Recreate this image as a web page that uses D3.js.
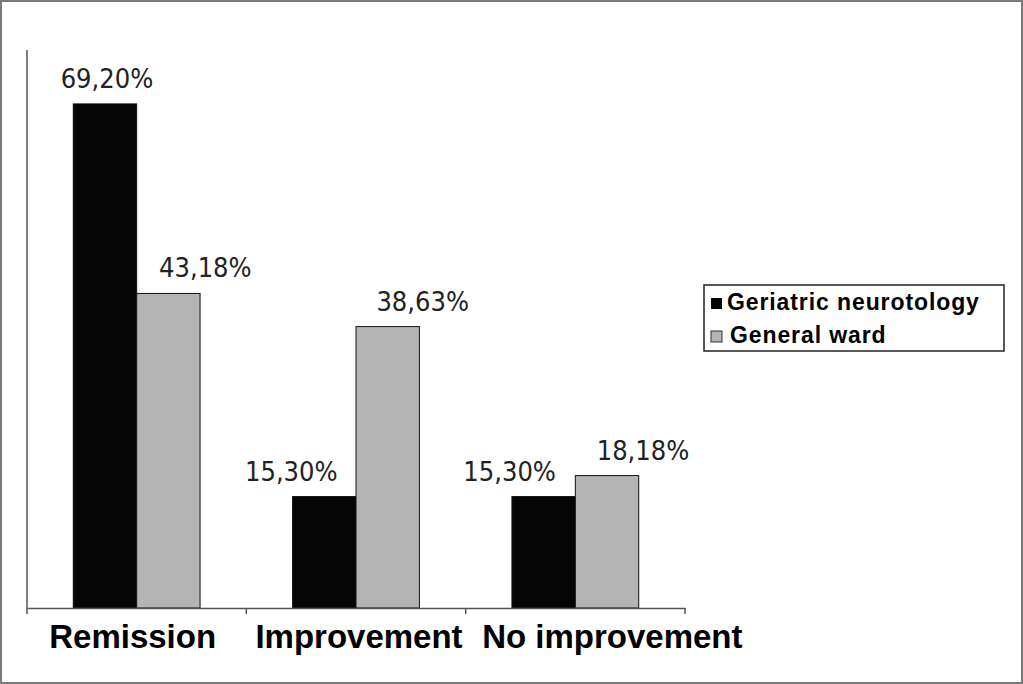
<!DOCTYPE html>
<html><head><meta charset="utf-8">
<script src="https://cdn.jsdelivr.net/npm/d3@7/dist/d3.min.js"></script>
<style>html,body{margin:0;padding:0;background:#fff;}svg{display:block;}</style>
</head><body>
<svg id="c" width="1023" height="684"></svg>
<script>
const categories = ["Remission", "Improvement", "No improvement"];
const seriesNames = ["Geriatric neurotology", "General ward"];
const geriatric = [69.20, 15.30, 15.30];
const general = [43.18, 38.63, 18.18];
const geriatricLabels = ["69,20%", "15,30%", "15,30%"];
const generalLabels = ["43,18%", "38,63%", "18,18%"];

const colors = ["#050505", "#b4b4b4"];
const svg = d3.select("#c");
const W = 1023, H = 684;

// outer frame
svg.append("rect").attr("x", 1).attr("y", 1).attr("width", W - 2).attr("height", H - 2)
  .attr("fill", "#fff").attr("stroke", "#7a7a7a").attr("stroke-width", 2);

const x0 = d3.scaleBand().domain(categories).range([27, 685]).paddingInner(0).paddingOuter(0);
const x1 = d3.scaleBand().domain(seriesNames).range([0, x0.bandwidth()]).paddingInner(0).paddingOuter(0.73);
const y = d3.scaleLinear().domain([0, 76.6]).range([608, 50]);

const data = categories.map((c, i) => ({
  cat: c,
  vals: [
    { s: seriesNames[0], v: geriatric[i], lab: geriatricLabels[i] },
    { s: seriesNames[1], v: general[i], lab: generalLabels[i] }
  ]
}));

// bars
const g = svg.append("g");
data.forEach((d, ci) => {
  d.vals.forEach((b, si) => {
    g.append("rect")
      .attr("x", x0(d.cat) + x1(b.s))
      .attr("y", y(b.v))
      .attr("width", x1.bandwidth())
      .attr("height", y(0) - y(b.v))
      .attr("fill", colors[si])
      .attr("stroke", "#111").attr("stroke-width", 1);
  });
});

// value labels (offset horizontally as in the original)
const labelDx = [[2, 37], [-33, 35], [-34, 36]];
data.forEach((d, ci) => {
  d.vals.forEach((b, si) => {
    const cx = x0(d.cat) + x1(b.s) + x1.bandwidth() / 2 + labelDx[ci][si];
    svg.append("text")
      .attr("x", cx).attr("y", y(b.v) - 16)
      .attr("text-anchor", "middle")
      .attr("font-family", "'DejaVu Sans Condensed','DejaVu Sans',sans-serif")
      .attr("font-stretch", "condensed")
      .attr("font-size", 27)
      .attr("fill", "#222")
      .text(b.lab);
  });
});

// y axis line
svg.append("line").attr("x1", 27).attr("x2", 27).attr("y1", 50).attr("y2", 608)
  .attr("stroke", "#555").attr("stroke-width", 1.5);

// x axis
const xAxis = d3.axisBottom(x0).tickSize(0).tickFormat("");
const ax = svg.append("g").attr("transform", "translate(0,608)").call(xAxis);
ax.select(".domain").attr("stroke", "#555").attr("stroke-width", 1.5);
// category boundary ticks
const bounds = categories.map(c => x0(c)).concat([x0(categories[categories.length - 1]) + x0.bandwidth()]);
ax.selectAll(".bt").data(bounds).enter().append("line")
  .attr("x1", d => d).attr("x2", d => d).attr("y1", 0).attr("y2", 6)
  .attr("stroke", "#555").attr("stroke-width", 1.5);

// category labels
const catDx = [-4, 3, 37];
categories.forEach((c, i) => {
  svg.append("text")
    .attr("x", x0(c) + x0.bandwidth() / 2 + catDx[i]).attr("y", 648)
    .attr("text-anchor", "middle")
    .attr("font-family", "'Liberation Sans',Arial,sans-serif")
    .attr("font-weight", "bold").attr("font-size", 33)
    .attr("fill", "#000")
    .text(c);
});

// legend
const lg = svg.append("g");
lg.append("rect").attr("x", 704).attr("y", 285).attr("width", 300).attr("height", 66)
  .attr("fill", "#fff").attr("stroke", "#222").attr("stroke-width", 1.5);
seriesNames.forEach((s, i) => {
  const yy = 298 + i * 33;
  lg.append("rect").attr("x", 711).attr("y", yy).attr("width", 11).attr("height", 11)
    .attr("fill", colors[i]).attr("stroke", i ? "#333" : "none").attr("stroke-width", 1);
  lg.append("text").attr("x", 727 + i * 3).attr("y", yy + 12)
    .attr("font-family", "'Liberation Sans',Arial,sans-serif")
    .attr("font-weight", "bold").attr("font-size", 23)
    .attr("letter-spacing", 0.9)
    .attr("fill", "#000").text(s);
});
</script>
</body></html>
